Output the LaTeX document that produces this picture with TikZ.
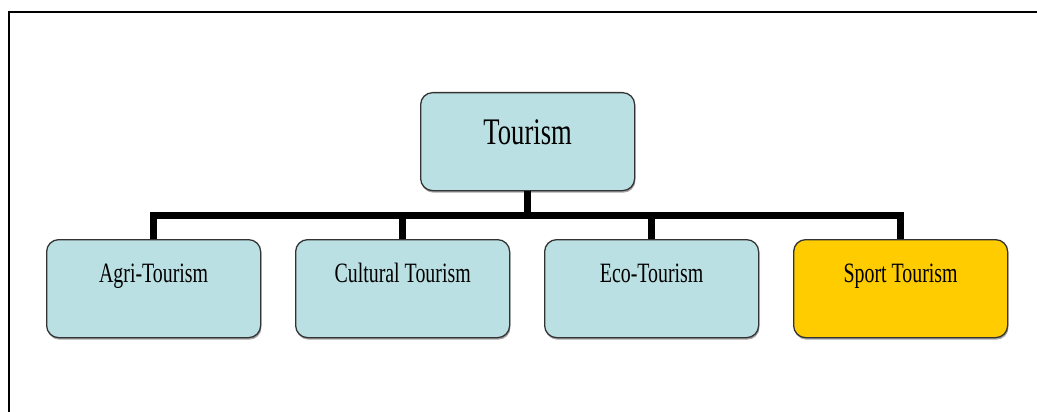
\documentclass[tikz,border=0pt]{standalone}
\usepackage{fontspec}
\usetikzlibrary{shadows}
\newfontfamily\labfont[FakeStretch=0.71]{Liberation Serif}
\definecolor{boxblue}{HTML}{BBE0E3}
\definecolor{boxyellow}{HTML}{FFCC00}
\definecolor{boxline}{HTML}{333333}
\tikzset{
  tbox/.style={draw=boxline, line width=1.3pt, rounded corners=12pt, fill=boxblue,
    minimum width=214pt, minimum height=98pt, inner sep=0pt, anchor=north west,
    drop shadow={shadow xshift=0.8pt, shadow yshift=-2pt, fill=gray!70, opacity=1}},
  smalllab/.style={font=\labfont\fontsize{28}{30}\selectfont, text=black, inner sep=0pt, anchor=base},
  biglab/.style={font=\labfont\fontsize{37.5}{40}\selectfont, text=black, inner sep=0pt, anchor=base},
  bar/.style={line width=7pt, black, miter limit=10, line join=miter},
}
\begin{document}
\begin{tikzpicture}[x=1pt,y=-1pt]
\useasboundingbox (0,0) rectangle (1037,412);
\coordinate (f1) at (9,412);
\coordinate (f2) at (9,12);
\coordinate (f3) at (1037,12);
\draw[line width=2.5pt, black] (f1) -- (f2) -- (f3);

\node[tbox] (top) at (420,92) {};
\node[tbox] (agri) at (46,239) {};
\node[tbox] (cult) at (295,239) {};
\node[tbox] (eco) at (544,239) {};
\node[tbox, fill=boxyellow] (sport) at (793,239) {};

\node[biglab] (ttop) at ([yshift=-52pt]top.north) {Tourism};
\node[smalllab] (tagri) at ([yshift=-43pt]agri.north) {Agri-Tourism};
\node[smalllab] (tcult) at ([yshift=-43pt]cult.north) {Cultural Tourism};
\node[smalllab] (teco) at ([yshift=-43pt]eco.north) {Eco-Tourism};
\node[smalllab] (tsport) at ([yshift=-43pt]sport.north) {Sport Tourism};

\coordinate (hub) at ([yshift=-24pt]top.south);
\draw[bar] (top.south) -- (hub);
\draw[bar] ([xshift=-3.5pt]agri.north |- hub) -- ([xshift=3.5pt]sport.north |- hub);
\draw[bar] (agri.north |- hub) -- (agri.north);
\draw[bar] (cult.north |- hub) -- (cult.north);
\draw[bar] (eco.north |- hub) -- (eco.north);
\draw[bar] (sport.north |- hub) -- (sport.north);
\end{tikzpicture}
\end{document}
